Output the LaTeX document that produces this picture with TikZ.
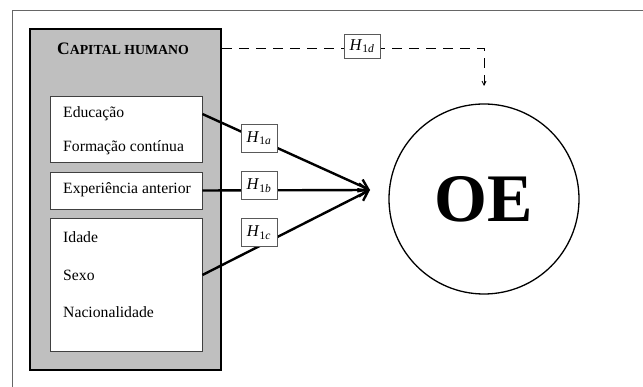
\documentclass[tikz,border=0pt]{standalone}
\usepackage{fontspec}
\setmainfont{Liberation Serif}
\usetikzlibrary{arrows.meta,positioning,calc}

\newcommand{\hyplabel}[1]{\textit{H}\textsubscript{1\textit{#1}}}

\begin{document}
\begin{tikzpicture}[x=1pt,y=-1pt,
      group/.style={draw, line width=2.2pt, fill=gray!50, minimum width=191pt, minimum height=341pt, inner sep=0pt},
      itembox/.style={draw=black!75, line width=0.8pt, fill=white, minimum width=152pt, inner sep=0pt},
      itemtext/.style={anchor=west, inner sep=0pt, font=\fontsize{15.7}{17}\selectfont},
      hyp/.style={draw=black!65, line width=0.8pt, fill=white, minimum width=36pt, minimum height=28pt, inner sep=1pt, font=\fontsize{16.5}{17}\selectfont},
      construct/.style={draw, line width=1.3pt, circle, minimum size=190pt, inner sep=0pt, font=\fontsize{68}{70}\selectfont\bfseries},
      linkstyle/.style={-{Straight Barb[length=9pt,width=13pt]}, line width=2.4pt},
      dashlink/.style={-{Straight Barb[length=4pt,width=4pt]}, line width=0.8pt, dash pattern=on 10pt off 7pt}
    ]
    \useasboundingbox (0,0) rectangle (643,387);
    \draw[black!60, line width=1pt] (12,387) -- (12,11) -- (643,11);

    % capital humano block
    \node[group] (capital) at (125.5,199.5) {};
    \node[inner sep=0pt, font=\fontsize{17.5}{18}\selectfont\bfseries] (title) at (123,49)
      {C{\fontsize{13.8}{14}\selectfont APITAL HUMANO}};

    \node[itembox, minimum height=66pt] (box1) at (126,129) {};
    \node[itembox, minimum height=37pt] (box2) at (126,190.5) {};
    \node[itembox, minimum height=133pt] (box3) at (126,284.5) {};

    \node[itemtext] (edu) at (63,114) {Educação};
    \node[itemtext] (form) at (63,148) {Formação contínua};
    \node[itemtext] (exp) at (63,190) {Experiência anterior};
    \node[itemtext] (idade) at (63,237) {Idade};
    \node[itemtext] (sexo) at (63,275) {Sexo};
    \node[itemtext] (nac) at (63,312) {Nacionalidade};

    \node[construct] (oe) at (484,199) {OE};
    \coordinate (tip) at (370,190);

    \draw[linkstyle] (box1.east |- edu) -- (tip);
    \draw[linkstyle] (box2.east) -- (tip);
    \draw[linkstyle] (box3.east |- sexo) -- (tip);

    \node[hyp] (h1a) at (259,138) {\hyplabel{a}};
    \node[hyp] (h1b) at (259,185.5) {\hyplabel{b}};
    \node[hyp] (h1c) at (259,232.5) {\hyplabel{c}};

    % direct path to OE
    \coordinate (bend) at (484,48);
    \coordinate (dend) at (484,86);
    \draw[dashlink] (capital.east |- bend) -- (bend) -- (dend);
    \node[hyp, minimum height=24pt] (h1d) at (362,46) {\hyplabel{d}};
  \end{tikzpicture}
\end{document}
